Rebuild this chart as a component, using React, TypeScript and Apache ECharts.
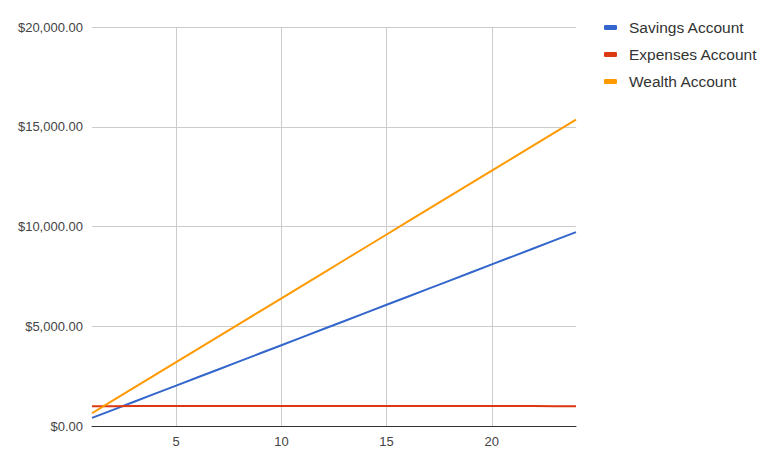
import React, { useEffect, useRef } from "react";
import * as echarts from "echarts";

const months = [1, 2, 3, 4, 5, 6, 7, 8, 9, 10, 11, 12, 13, 14, 15, 16, 17, 18, 19, 20, 21, 22, 23, 24];
const savings = [405, 810, 1215, 1620, 2025, 2430, 2835, 3240, 3645, 4050, 4455, 4860, 5265, 5670, 6075, 6480, 6885, 7290, 7695, 8100, 8505, 8910, 9315, 9720];
const expenses = [995, 995, 1000, 1000, 1000, 1000, 1000, 1000, 1000, 1000, 1000, 1000, 1000, 1000, 1000, 1000, 1000, 1000, 1000, 1000, 1000, 1000, 995, 995];
const wealth = [640, 1280, 1920, 2560, 3200, 3840, 4480, 5120, 5760, 6400, 7040, 7680, 8320, 8960, 9600, 10240, 10880, 11520, 12160, 12800, 13440, 14080, 14720, 15360];
const xTicks = [5, 10, 15, 20];
const seriesNames = ["Savings Account", "Expenses Account", "Wealth Account"];
const colors = ["#3366cc", "#dc3912", "#ff9900"];

const FONT = "Arial, 'Liberation Sans', sans-serif";

export default function App() {
  const ref = useRef<HTMLDivElement>(null);
  useEffect(() => {
    const chart = echarts.init(ref.current!, undefined, { renderer: "svg" });
    const pairs = (ys: number[]) => months.map((m, i) => [m, ys[i]]);
    chart.setOption({
      animation: false,
      textStyle: { fontFamily: FONT },
      grid: { left: 92, right: 199, top: 27, bottom: 38, containLabel: false },
      legend: {
        orient: "vertical",
        left: 599,
        top: 14,
        itemWidth: 13,
        itemHeight: 5,
        itemGap: 10,
        icon: "roundRect",
        textStyle: { fontSize: 15.5, color: "#333", fontFamily: FONT, padding: [0, 0, 0, 7], lineHeight: 17 },
        data: seriesNames,
      },
      xAxis: {
        type: "value",
        min: 1,
        max: 24,
        axisLine: { show: true, lineStyle: { color: "#333", width: 1 } },
        axisTick: { show: false, customValues: xTicks },
        axisLabel: { customValues: xTicks, color: "#444", fontSize: 13, margin: 9, fontFamily: FONT },
        splitLine: { show: true, lineStyle: { color: "#cccccc", width: 1 } },
      },
      yAxis: {
        type: "value",
        min: 0,
        max: 20000,
        interval: 5000,
        axisLine: { show: false },
        axisTick: { show: false },
        axisLabel: {
          color: "#444",
          fontSize: 13,
          margin: 9,
          fontFamily: FONT,
          formatter: (v: number) => "$" + v.toLocaleString("en-US", { minimumFractionDigits: 2, maximumFractionDigits: 2 }),
        },
        splitLine: { show: true, lineStyle: { color: "#cccccc", width: 1 } },
      },
      series: [
        { name: seriesNames[0], type: "line", data: pairs(savings), showSymbol: false, lineStyle: { width: 2, color: colors[0] }, itemStyle: { color: colors[0] } },
        { name: seriesNames[1], type: "line", data: pairs(expenses), showSymbol: false, lineStyle: { width: 2, color: colors[1] }, itemStyle: { color: colors[1] } },
        { name: seriesNames[2], type: "line", data: pairs(wealth), showSymbol: false, lineStyle: { width: 2, color: colors[2] }, itemStyle: { color: colors[2] } },
      ],
    });
    return () => chart.dispose();
  }, []);
  return <div ref={ref} style={{ position: "fixed", left: 0, top: 0, width: 775, height: 464, background: "#fff" }} />;
}
